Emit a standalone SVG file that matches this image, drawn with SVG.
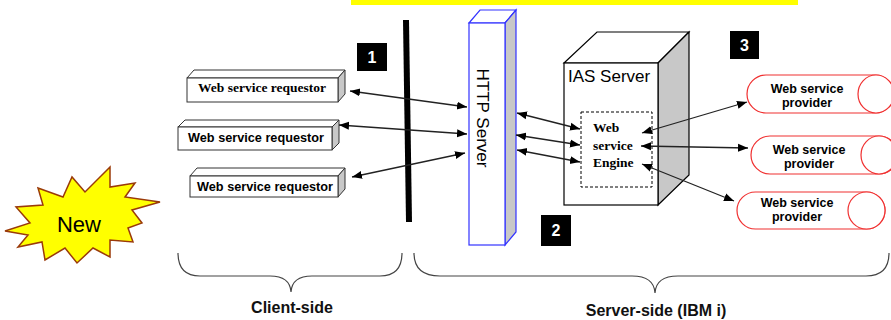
<svg xmlns="http://www.w3.org/2000/svg" width="891" height="320" viewBox="0 0 891 320">
<style>
.req{fill:#fff;stroke:#333;stroke-width:1}
.side{fill:#c8c8c8;stroke:#333;stroke-width:1}
.top{fill:#fff;stroke:#333;stroke-width:1}
.tb{font-family:"Liberation Serif",serif;font-weight:bold;fill:#000}
.ab{font-family:"Liberation Sans",Arial,sans-serif;font-weight:bold;fill:#000}
.an{font-family:"Liberation Sans",Arial,sans-serif;fill:#000}
.conn{stroke:#222;stroke-width:1.3;fill:none;marker-start:url(#ah);marker-end:url(#ah)}
.prov{fill:#fff;stroke:#f03030;stroke-width:1.2}
.num{fill:#000}
.numt{font-family:"Liberation Sans",Arial,sans-serif;font-weight:bold;fill:#fff;font-size:16px;text-anchor:middle}
.brace{fill:none;stroke:#444;stroke-width:1.2}
.side-lbl{font-family:"Liberation Sans",Arial,sans-serif;font-weight:bold;fill:#111;font-size:16px;text-anchor:middle}
</style>
<defs>
<marker id="ah" viewBox="0 0 10 10" refX="10" refY="5" markerWidth="10" markerHeight="10" markerUnits="userSpaceOnUse" orient="auto-start-reverse">
<path d="M0,1 L10,5 L0,9 z" fill="#000"/>
</marker>
</defs>
<rect x="351" y="0" width="447" height="5" fill="#ffff00"/>

<g id="new">
<polygon points="5,231 30,223 16,207 43,205 38,188 63,197 72,177 85,192 110,167 110,187 135,183 125,197 160,202 132,210 142,223 128,228 133,242 110,240 110,257 93,248 77,263 65,248 45,260 42,242 18,247 28,235" fill="#ffff00" stroke="#9a3a0a" stroke-width="1.5" stroke-linejoin="miter"/>
<text x="79" y="232" class="an" font-size="22" text-anchor="middle">New</text>
</g>

<g id="req1">
<polygon class="top" points="187,78 194,70 345,70 338,78"/>
<polygon class="side" points="338,78 345,70 345,94 338,102"/>
<rect class="req" x="187" y="78" width="151" height="24"/>
<text x="262" y="92" class="tb" font-size="13.5" text-anchor="middle">Web service requestor</text>
</g>
<g id="req2">
<polygon class="top" points="178,127 185,120 339,120 332,127"/>
<polygon class="side" points="332,127 339,120 339,143 332,150"/>
<rect class="req" x="178" y="127" width="154" height="23"/>
<text x="256" y="142" class="ab" font-size="12.7" text-anchor="middle">Web service requestor</text>
</g>
<g id="req3">
<polygon class="top" points="190,176 197,168 345,168 338,176"/>
<polygon class="side" points="338,176 345,168 345,189 338,197"/>
<rect class="req" x="190" y="176" width="148" height="21"/>
<text x="265" y="191" class="ab" font-size="12.7" text-anchor="middle">Web service requestor</text>
</g>

<g id="firewall">
<line x1="406" y1="20" x2="409" y2="222" stroke="#000" stroke-width="6"/>
</g>

<g id="http">
<polygon points="469,23 480,10 516,10 505,23" fill="#fff" stroke="#3333ff" stroke-width="1.2"/>
<polygon points="505,23 516,10 516,232 505,245" fill="#c8c8c8" stroke="#3333ff" stroke-width="1.2"/>
<rect x="469" y="23" width="36" height="222" fill="#fff" stroke="#3333ff" stroke-width="1.2"/>
<text transform="translate(477,118) rotate(90)" class="an" font-size="17" text-anchor="middle">HTTP  Server</text>
</g>

<g id="ias">
<polygon points="564,63 597,32 689,32 658,63" fill="#fff" stroke="#000" stroke-width="1.2"/>
<polygon points="658,63 689,32 689,175 658,205" fill="#c8c8c8" stroke="#000" stroke-width="1.2"/>
<rect x="564" y="63" width="94" height="142" fill="#fff" stroke="#000" stroke-width="1.2"/>
<text x="568" y="82" class="an" font-size="17">IAS Server</text>
</g>

<g id="engine">
<rect x="581" y="112" width="71" height="75" fill="#fff" stroke="#000" stroke-width="1" stroke-dasharray="3,2"/>
<text x="593" y="132" class="tb" font-size="13.5">Web</text>
<text x="593" y="150" class="tb" font-size="13.5">service</text>
<text x="593" y="167" class="tb" font-size="13.5">Engine</text>
</g>

<g id="prov1">
<rect class="prov" x="747" y="75" width="147" height="38" rx="19" ry="19"/>
<ellipse class="prov" cx="876" cy="94" rx="18" ry="19"/>
<text x="807" y="93" class="ab" font-size="12.5" text-anchor="middle">Web service</text>
<text x="807" y="107" class="ab" font-size="12.5" text-anchor="middle">provider</text>
</g>
<g id="prov2">
<rect class="prov" x="751" y="136" width="147" height="38" rx="19" ry="19"/>
<ellipse class="prov" cx="879" cy="155" rx="18" ry="19"/>
<text x="809" y="154" class="ab" font-size="12.5" text-anchor="middle">Web service</text>
<text x="809" y="168" class="ab" font-size="12.5" text-anchor="middle">provider</text>
</g>
<g id="prov3">
<rect class="prov" x="737" y="192" width="148" height="37" rx="18.5" ry="18.5"/>
<ellipse class="prov" cx="866.5" cy="210.5" rx="18.5" ry="18.5"/>
<text x="797" y="207" class="ab" font-size="12.5" text-anchor="middle">Web service</text>
<text x="797" y="221" class="ab" font-size="12.5" text-anchor="middle">provider</text>
</g>

<g id="connectors">
<line class="conn" x1="350" y1="91" x2="467" y2="107"/>
<line class="conn" x1="339" y1="125" x2="467" y2="134"/>
<line class="conn" x1="352" y1="177" x2="465" y2="153"/>
<line class="conn" x1="517" y1="113" x2="580" y2="129"/>
<line class="conn" x1="516" y1="135" x2="580" y2="145"/>
<line class="conn" x1="517" y1="150" x2="580" y2="162"/>
<line class="conn" x1="642" y1="133" x2="747" y2="102"/>
<line class="conn" x1="641" y1="146" x2="748" y2="148"/>
<line class="conn" x1="642" y1="164" x2="734" y2="201"/>
</g>

<g id="label1">
<rect class="num" x="357" y="43" width="30" height="28"/>
<text x="372" y="63" class="numt">1</text>
</g>
<g id="label2">
<rect class="num" x="541" y="215" width="30" height="31"/>
<text x="556" y="236" class="numt">2</text>
</g>
<g id="label3">
<rect class="num" x="730" y="31" width="29" height="28"/>
<text x="744.5" y="51" class="numt">3</text>
</g>

<g id="client-brace">
<path class="brace" d="M178,253 Q178,276 200,276 L270,276 Q290,276 291,292 Q292,276 312,276 L380,276 Q402,276 402,253"/>
<text x="292" y="313" class="side-lbl">Client-side</text>
</g>
<g id="server-brace">
<path class="brace" d="M414,253 Q414,276 440,276 L632,276 Q654,276 655,293 Q656,276 678,276 L866,276 Q889,276 889,253"/>
<text x="656" y="316" class="side-lbl">Server-side (IBM i)</text>
</g>
</svg>
